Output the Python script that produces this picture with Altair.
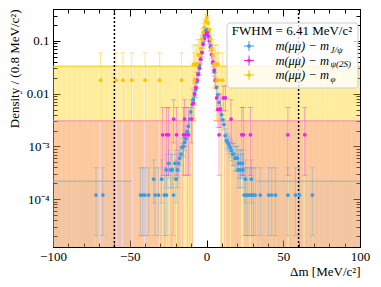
import altair as alt
import pandas as pd
import numpy as np

FONT = "Liberation Serif"
X_DOMAIN = [-100, 100]
Y_DOMAIN = [1.25e-5, 0.4]

# density of one entry per bin for each sample
UNIT_JPSI = 1.2e-4
UNIT_PSI2S = 1.66e-3
UNIT_PHI = 0.018

COL_JPSI = "#3A9BE8"
COL_PSI2S = "#F020F0"
COL_PHI = "#FFC400"

# (delta m, density)
jpsi_points = [
    (-72.0, 1.2e-4), (-67.5, 1.2e-4), (-43.0, 1.2e-4), (-41.6, 1.2e-4), (-40.2, 1.2e-4),
    (-37.7, 1.2e-4), (-33.5, 1.2e-4), (-31.2, 1.2e-4), (-27.5, 1.2e-4), (-26.0, 1.2e-4),
    (-21.5, 1.2e-4), (-34.4, 2.4e-4), (-29.2, 2.4e-4), (-19.8, 2.4e-4), (-26.2, 3.6e-4),
    (-23.4, 3.6e-4), (-22.3, 3.6e-4), (-19.0, 3.6e-4), (-24.6, 4.8e-4), (-20.6, 4.8e-4),
    (-18.2, 4.8e-4), (-17.4, 6.0e-4), (-16.6, 7.2e-4), (-15.8, 9.6e-4), (-15.0, 1.0e-3),
    (-14.2, 1.2e-3), (-13.4, 1.4e-3), (-12.6, 1.9e-3), (-11.8, 2.4e-3), (-11.0, 3.3e-3),
    (-10.2, 4.5e-3), (-9.4, 6.2e-3), (-8.6, 7.8e-3), (-7.8, 9.5e-3), (-7.0, 1.2e-2),
    (-6.2, 1.7e-2), (-5.4, 2.4e-2), (-4.6, 3.4e-2), (-3.8, 4.5e-2), (-3.0, 6.0e-2),
    (-2.2, 8.8e-2), (-1.4, 0.125), (-0.6, 0.155), (0.2, 0.165), (1.0, 0.15),
    (1.8, 0.115), (2.6, 0.08), (3.4, 0.055), (4.2, 0.038), (5.0, 0.026),
    (5.8, 0.018), (6.6, 0.013), (7.4, 0.0095), (8.2, 0.0068), (9.0, 0.0052),
    (9.8, 0.004), (10.6, 0.0032), (11.4, 0.0026), (12.2, 0.0016), (13.0, 0.0013),
    (13.8, 0.0012), (14.6, 0.00108), (15.4, 9.6e-4), (16.2, 8.4e-4), (17.0, 7.2e-4),
    (17.8, 7.2e-4), (18.6, 6.0e-4), (19.4, 6.0e-4), (20.2, 6.0e-4), (21.0, 4.8e-4),
    (22.2, 4.8e-4), (23.4, 4.8e-4), (20.6, 3.6e-4), (22.0, 3.6e-4), (23.7, 3.6e-4),
    (25.3, 2.4e-4), (29.2, 2.4e-4), (24.5, 1.2e-4), (25.7, 1.2e-4), (26.9, 1.2e-4),
    (28.1, 1.2e-4), (29.3, 1.2e-4), (30.5, 1.2e-4), (31.7, 1.2e-4), (35.0, 1.2e-4),
    (40.5, 1.2e-4), (42.5, 1.2e-4), (45.0, 1.2e-4), (53.0, 1.2e-4), (58.0, 1.2e-4),
    (60.5, 1.2e-4), (69.0, 1.2e-4),
]

psi2s_points = [
    (-28.6, 1.66e-3), (-26.0, 1.66e-3), (-24.7, 1.66e-3), (-21.4, 3.3e-3), (-19.5, 1.66e-3),
    (-15.0, 1.66e-3), (-14.3, 3.3e-3), (-13.4, 1.66e-3), (-11.7, 1.66e-3), (-9.7, 3.3e-3),
    (-8.6, 6.6e-3), (-7.8, 0.01), (-7.0, 0.013), (-6.2, 0.018), (-5.4, 0.023),
    (-4.6, 0.03), (-3.8, 0.045), (-3.0, 0.06), (-2.2, 0.085), (-1.4, 0.11),
    (-0.6, 0.135), (0.2, 0.14), (1.0, 0.125), (1.8, 0.1), (2.6, 0.075),
    (3.4, 0.055), (4.2, 0.04), (5.0, 0.028), (5.8, 0.018), (6.6, 0.0083),
    (7.4, 0.005), (8.2, 0.00166), (9.0, 0.005), (11.0, 0.0083), (12.3, 0.0083),
    (16.0, 0.0033), (23.0, 1.66e-3), (24.0, 1.66e-3), (28.6, 1.66e-3), (53.0, 1.66e-3),
    (64.0, 1.66e-3),
]

phi_points = [
    (-69.0, 0.018), (-59.0, 0.018), (-54.5, 0.018), (-48.7, 0.018), (-40.0, 0.018),
    (-30.5, 0.018), (-16.2, 0.018), (-8.6, 0.036), (-7.8, 0.018), (-7.0, 0.036),
    (-6.2, 0.036), (-5.4, 0.054), (-4.6, 0.054), (-3.8, 0.072), (-3.0, 0.108),
    (-2.2, 0.144), (-1.4, 0.18), (-0.6, 0.234), (0.2, 0.27), (1.0, 0.216),
    (1.8, 0.162), (2.6, 0.108), (3.4, 0.072), (4.2, 0.054), (5.0, 0.036),
    (5.8, 0.036), (6.6, 0.018), (7.4, 0.036), (8.2, 0.018), (10.6, 0.018),
]

# ranges outside the peak where bins with no entries are drawn (0-entry upper-limit band)
band_jpsi = [(-100, -48.7), (32.5, 100)]
band_psi2s = [(-100, -7.3), (4.5, 100)]
band_phi = [(-100, -4.5), (5.5, 100)]
ZERO_UPPER = 1.84  # upper limit for an empty bin, in entries

BIN_WIDTH = 0.8
LIMITS = [-60, 60]

X_MAJOR = [-100, -50, 0, 50, 100]
X_MINOR = list(range(-100, 101, 10))
Y_MAJOR = [1e-4, 1e-3, 1e-2, 1e-1]
Y_MINOR = [k * 10.0 ** e for e in range(-5, 0) for k in range(2, 10) if 1.25e-5 <= k * 10.0 ** e <= 0.4]

xs = alt.Scale(domain=X_DOMAIN, nice=False, zero=False)
ys = alt.Scale(type="log", domain=Y_DOMAIN, nice=False)


def series_frame(points, unit):
    df = pd.DataFrame(points, columns=["x", "y"])
    n = df["y"] / unit
    lo = n * (1 - 1 / (9 * n) - 1 / (3 * np.sqrt(n))) ** 3
    n1 = n + 1
    hi = n1 * (1 - 1 / (9 * n1) + 1 / (3 * np.sqrt(n1))) ** 3
    df["lo"] = lo * unit
    df["hi"] = hi * unit
    df["xlo"] = df["x"] - BIN_WIDTH / 2
    df["xhi"] = df["x"] + BIN_WIDTH / 2
    return df


def band_frame(ranges, points, unit):
    edges = np.arange(X_DOMAIN[0], X_DOMAIN[1] + 1e-9, BIN_WIDTH)
    filled = {int((x - X_DOMAIN[0]) // BIN_WIDTH) for x, _ in points}
    rows = []
    for i in range(len(edges) - 1):
        c = 0.5 * (edges[i] + edges[i + 1])
        if i in filled:
            continue
        if any(a <= c <= b for a, b in ranges):
            rows.append({"x0": edges[i], "x1": edges[i + 1],
                         "bottom": Y_DOMAIN[0], "top": ZERO_UPPER * unit})
    return pd.DataFrame(rows)


def band_tops(ranges, unit):
    return pd.DataFrame([{"x0": a, "x1": b, "top": ZERO_UPPER * unit} for a, b in ranges])


X = lambda f: alt.X(f, type="quantitative", scale=xs, axis=None)
Y = lambda f: alt.Y(f, type="quantitative", scale=ys, axis=None)

layers = []

# bands of empty bins
for ranges, pts, unit, col, op, line in [
    (band_phi, phi_points, UNIT_PHI, "#FFD000", 0.4, "#F4C800"),
    (band_psi2s, psi2s_points, UNIT_PSI2S, "#F03CA0", 0.2, "#F08CB8"),
    (band_jpsi, jpsi_points, UNIT_JPSI, "#3A9BE8", 0.05, "#B0A8A8"),
]:
    bdf = band_frame(ranges, pts, unit)
    layers.append(
        alt.Chart(bdf).mark_rect(color=col, opacity=op, clip=True).encode(
            x=X("x0"), x2="x1", y=Y("bottom"), y2="top"
        )
    )
    layers.append(
        alt.Chart(band_tops(ranges, unit)).mark_rule(color=line, strokeWidth=1, clip=True).encode(
            x=X("x0"), x2="x1", y=Y("top")
        )
    )

# limit lines
layers.append(
    alt.Chart(pd.DataFrame({"x": LIMITS})).mark_rule(
        color="black", strokeDash=[2, 2], strokeWidth=1.5
    ).encode(x=X("x"))
)

# error bars then points
frames = [
    (series_frame(jpsi_points, UNIT_JPSI), COL_JPSI, 0.3),
    (series_frame(psi2s_points, UNIT_PSI2S), COL_PSI2S, 0.4),
    (series_frame(phi_points, UNIT_PHI), COL_PHI, 0.45),
]
for df, col, eop in frames:
    layers.append(
        alt.Chart(df).mark_rule(color=col, strokeWidth=1, opacity=eop, clip=True).encode(
            x=X("x"), y=Y("lo"), y2="hi"
        )
    )
    for end in ["hi", "lo"]:
        layers.append(
            alt.Chart(df).mark_tick(color=col, orient="horizontal", size=5, thickness=1,
                                    opacity=eop, clip=True).encode(x=X("x"), y=Y(end))
        )
for df, col, eop in frames:
    layers.append(
        alt.Chart(df).mark_rule(color=col, strokeWidth=1, opacity=0.8, clip=True).encode(
            x=X("xlo"), x2="xhi", y=Y("y")
        )
    )
    layers.append(
        alt.Chart(df).mark_point(color=col, filled=True, size=14, opacity=1, shape="circle", clip=True).encode(
            x=X("x"), y=Y("y")
        )
    )

# axes (inward ticks on all four sides)
carrier_df = pd.DataFrame({"x": [0.0], "y": [0.01]})
lab = dict(labelFont=FONT, labelFontSize=13, labelColor="black", tickColor="black",
           titleFont=FONT, titleFontSize=13, titleColor="black", titleFontWeight="normal",
           grid=False, domain=False, labelFlush=False)


def carrier(xaxis, yaxis):
    return alt.Chart(carrier_df).mark_point(opacity=0).encode(
        x=alt.X("x:Q", scale=xs, axis=xaxis),
        y=alt.Y("y:Q", scale=ys, axis=yaxis),
    )


y_label_expr = ("datum.value >= 0.05 ? '0.1' : datum.value >= 0.005 ? '0.01' : "
                "datum.value >= 0.0005 ? '10⁻³' : '10⁻⁴'")

layers.append(carrier(
    alt.Axis(orient="bottom", values=X_MAJOR, tickSize=7, offset=-7, labelPadding=3,
             format="d", title="Δm [MeV/c²]", titleAnchor="end", titlePadding=2, **lab),
    alt.Axis(orient="left", values=Y_MAJOR, tickSize=7, offset=-7, labelPadding=4,
             labelExpr=y_label_expr, title="Density / (0.8 MeV/c²)", titleAnchor="end",
             titlePadding=5, **lab),
))
layers.append(carrier(
    alt.Axis(orient="bottom", values=X_MINOR, tickSize=4, offset=-4, labels=False, title=None, **lab),
    alt.Axis(orient="left", values=Y_MINOR, tickSize=4, offset=-4, labels=False, title=None, **lab),
))
layers.append(carrier(
    alt.Axis(orient="top", values=X_MAJOR, tickSize=7, offset=-7, labels=False, title=None, **lab),
    alt.Axis(orient="right", values=Y_MAJOR, tickSize=7, offset=-7, labels=False, title=None, **lab),
))
layers.append(carrier(
    alt.Axis(orient="top", values=X_MINOR, tickSize=4, offset=-4, labels=False, title=None, **lab),
    alt.Axis(orient="right", values=Y_MINOR, tickSize=4, offset=-4, labels=False, title=None, **lab),
))

# legend box
layers.append(
    alt.Chart(carrier_df).mark_rect(fill="white", fillOpacity=0.8, stroke="#cccccc",
                                    strokeWidth=1, cornerRadius=3).encode(
        x=alt.value(174), x2=alt.value(305), y=alt.value(14), y2=alt.value(79)
    )
)
layers.append(
    alt.Chart(carrier_df).mark_text(text="FWHM = 6.41 MeV/c²", font=FONT, fontSize=13,
                                    align="center", baseline="middle", color="black").encode(
        x=alt.value(239), y=alt.value(22)
    )
)
legend_rows = [("J/ψ", COL_JPSI), ("ψ(2S)", COL_PSI2S), ("φ", COL_PHI)]
for i, (sub, col) in enumerate(legend_rows):
    yy = 37 + 14.5 * i
    mx = 196
    layers.append(alt.Chart(carrier_df).mark_rule(color=col, strokeWidth=1).encode(
        x=alt.value(mx - 5), x2=alt.value(mx + 5), y=alt.value(yy)))
    layers.append(alt.Chart(carrier_df).mark_rule(color=col, strokeWidth=1).encode(
        x=alt.value(mx), y=alt.value(yy - 5), y2=alt.value(yy + 5)))
    layers.append(alt.Chart(carrier_df).mark_point(color=col, filled=True, size=14, opacity=1).encode(
        x=alt.value(mx), y=alt.value(yy)))
    layers.append(alt.Chart(carrier_df).mark_text(
        text="m(μμ) − m", font=FONT, fontSize=12.5, fontStyle="italic", align="right",
        baseline="middle", color="black").encode(x=alt.value(276), y=alt.value(yy)))
    layers.append(alt.Chart(carrier_df).mark_text(
        text=sub, font=FONT, fontSize=9, fontStyle="italic", align="left",
        baseline="middle", color="black").encode(x=alt.value(277.5), y=alt.value(yy + 3.5)))

chart = alt.layer(*layers).resolve_axis(x="independent", y="independent").properties(
    width=307, height=238, background="white",
    padding={"left": 0, "top": 0, "right": 0, "bottom": 0},
).configure_view(stroke="black", strokeWidth=1)

chart.save("out.html", embed_options={"renderer": "svg", "actions": False})
